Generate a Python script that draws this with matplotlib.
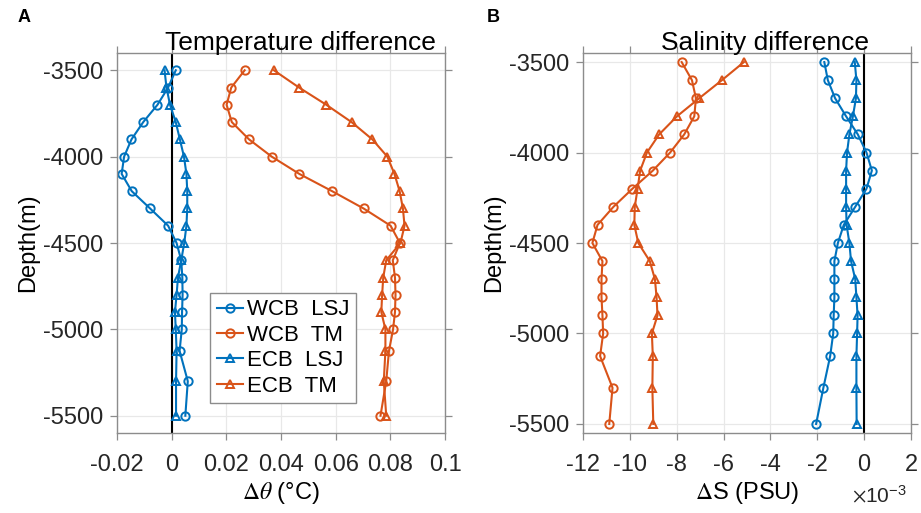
import numpy as np
import matplotlib
matplotlib.use('Agg')
import matplotlib.pyplot as plt

plt.rcParams.update({'font.family': ['Liberation Sans', 'DejaVu Sans']})
plt.rcParams.update({'axes.unicode_minus': False})
plt.rcParams.update({'mathtext.fontset': 'stix'})

blue = '#0072BD'
orange = '#D95319'

depth = [-3500, -3600, -3700, -3800, -3900, -4000, -4100, -4200, -4300, -4400,
         -4500, -4600, -4700, -4800, -4900, -5000, -5125, -5300, -5500]

# temperature difference (degC)
t_wcb_lsj = [0.0015, -0.0013, -0.0052, -0.0104, -0.0147, -0.0174, -0.0183, -0.0146, -0.0079, -0.0013,
             0.0018, 0.0035, 0.0039, 0.0040, 0.0038, 0.0037, 0.0029, 0.0059, 0.0050]
t_wcb_tm = [0.0267, 0.0218, 0.0201, 0.0220, 0.0283, 0.0366, 0.0467, 0.0587, 0.0702, 0.0801,
            0.0835, 0.0809, 0.0817, 0.0819, 0.0817, 0.0810, 0.0795, 0.0785, 0.0764]
t_ecb_lsj = [-0.0026, -0.0019, -0.0006, 0.0015, 0.0030, 0.0045, 0.0054, 0.0057, 0.0057, 0.0054,
             0.0046, 0.0035, 0.0023, 0.0018, 0.0012, 0.0015, 0.0018, 0.0016, 0.0016]
t_ecb_tm = [0.0374, 0.0466, 0.0566, 0.0658, 0.0734, 0.0789, 0.0815, 0.0834, 0.0846, 0.0852,
            0.0837, 0.0785, 0.0774, 0.0770, 0.0767, 0.0782, 0.0782, 0.0776, 0.0785]

# salinity difference (1e-3 PSU)
s_wcb_lsj = [-1.70, -1.55, -1.24, -0.77, -0.27, 0.10, 0.33, 0.10, -0.38, -0.87,
             -1.12, -1.27, -1.27, -1.27, -1.30, -1.32, -1.45, -1.74, -2.05]
s_wcb_tm = [-7.79, -7.35, -7.18, -7.25, -7.68, -8.28, -9.02, -9.89, -10.70, -11.38,
            -11.60, -11.17, -11.21, -11.21, -11.17, -11.14, -11.27, -10.74, -10.88]
s_ecb_lsj = [-0.40, -0.33, -0.35, -0.48, -0.63, -0.73, -0.77, -0.77, -0.77, -0.75,
             -0.63, -0.56, -0.38, -0.33, -0.28, -0.30, -0.33, -0.33, -0.32]
s_ecb_tm = [-5.13, -6.07, -7.04, -7.99, -8.75, -9.27, -9.56, -9.67, -9.79, -9.81,
            -9.64, -9.15, -8.93, -8.86, -8.82, -9.06, -9.02, -9.04, -9.00]

labels = ['WCB  LSJ', 'WCB  TM', 'ECB  LSJ', 'ECB  TM']
yticks = [-5500, -5000, -4500, -4000, -3500]
t_xticks = [-0.02, 0, 0.02, 0.04, 0.06, 0.08, 0.1]
t_xticklabels = ['-0.02', '0', '0.02', '0.04', '0.06', '0.08', '0.1']
s_xticks = [-12, -10, -8, -6, -4, -2, 0, 2]

fig = plt.figure(figsize=(9.21, 5.13), dpi=100, facecolor='w')
axA = fig.add_axes([117/921, 80/513, 328/921, 380/513])
axB = fig.add_axes([583/921, 80/513, 328/921, 380/513])

kw = dict(lw=1.5, ms=6, mfc='none', mew=1.4)

def style(ax):
    ax.grid(True, color='#e8e8e8', lw=0.9)
    ax.set_axisbelow(True)
    for s in ax.spines.values():
        s.set_color('#8c8c8c')
        s.set_linewidth(1.0)
    ax.tick_params(direction='out', length=5, width=0.9, color='#8c8c8c',
                   labelcolor='#262626', labelsize=17, top=True, right=True)
    ax.tick_params(axis='x', pad=10)
    ax.tick_params(axis='y', pad=5)
    ax.set_yticks(yticks)
    ax.axvline(0, color='k', lw=1.5, zorder=1.5)

style(axA)
axA.plot(t_wcb_lsj, depth, 'o-', color=blue, label=labels[0], **kw)
axA.plot(t_wcb_tm, depth, 'o-', color=orange, label=labels[1], **kw)
axA.plot(t_ecb_lsj, depth, '^-', color=blue, label=labels[2], **kw)
axA.plot(t_ecb_tm, depth, '^-', color=orange, label=labels[3], **kw)
axA.set_xlim(-0.02, 0.1)
axA.set_ylim(-5600, -3400)
axA.set_xticks(t_xticks)
axA.set_xticklabels(t_xticklabels)
axA.set_xlabel(r'$\Delta\theta$ (°C)', fontsize=17, labelpad=3)
axA.set_ylabel('Depth(m)', fontsize=17, labelpad=3)
axA.set_title('Temperature difference', fontsize=19, x=0.56, pad=2)
leg = axA.legend(loc='lower left', bbox_to_anchor=(0.284, 0.078), fontsize=16,
                 handlelength=1.2, handletextpad=0.15, borderpad=0.3, labelspacing=0.2,
                 borderaxespad=0, fancybox=False, framealpha=1, edgecolor='#8c8c8c')
leg.get_frame().set_linewidth(1.0)

style(axB)
axB.plot(s_wcb_lsj, depth, 'o-', color=blue, **kw)
axB.plot(s_wcb_tm, depth, 'o-', color=orange, **kw)
axB.plot(s_ecb_lsj, depth, '^-', color=blue, **kw)
axB.plot(s_ecb_tm, depth, '^-', color=orange, **kw)
axB.set_xlim(-12, 2)
axB.set_ylim(-5550, -3450)
axB.set_xticks(s_xticks)
axB.set_xlabel(r'$\Delta$S (PSU)', fontsize=17, labelpad=3)
axB.set_ylabel('Depth(m)', fontsize=17, labelpad=3)
axB.set_title('Salinity difference', fontsize=19, x=0.555, pad=2)
axB.text(0.905, -0.165, r'$\times\mathregular{10^{-3}}$', transform=axB.transAxes, fontsize=15,
         ha='center', va='center', color='#262626')

fig.text(18/921, 1 - 18/513, 'A', fontsize=13, fontweight='bold', va='center')
fig.text(487/921, 1 - 18/513, 'B', fontsize=13, fontweight='bold', va='center')

plt.savefig('out.png', dpi=100)
